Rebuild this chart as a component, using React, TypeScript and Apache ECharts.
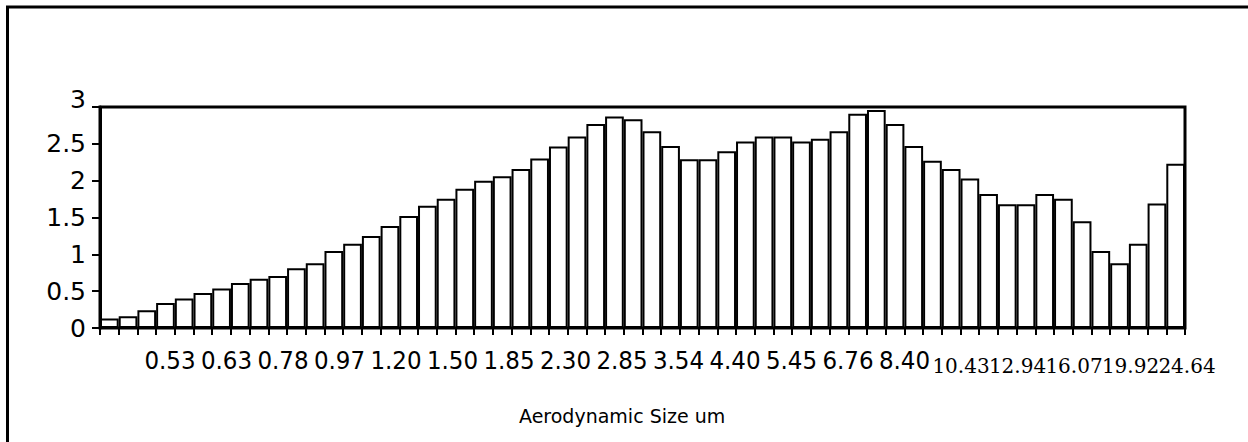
import React, { useEffect, useRef } from "react";
import * as echarts from "echarts";

const channels: string[] = [
  "1", "2", "3", "4", "5", "6", "7", "8", "9", "10",
  "11", "12", "13", "14", "15", "16", "17", "18", "19", "20",
  "21", "22", "23", "24", "25", "26", "27", "28", "29", "30",
  "31", "32", "33", "34", "35", "36", "37", "38", "39", "40",
  "41", "42", "43", "44", "45", "46", "47", "48", "49", "50",
  "51", "52", "53", "54", "55", "56", "57", "58",
];

const values: number[] = [
  0.13, 0.16, 0.24, 0.34, 0.40, 0.475, 0.535, 0.61, 0.67, 0.705,
  0.81, 0.88, 1.045, 1.145, 1.25, 1.385, 1.52, 1.66, 1.755, 1.89,
  2.0, 2.06, 2.16, 2.30, 2.465, 2.60, 2.77, 2.87, 2.835, 2.67,
  2.47, 2.29, 2.29, 2.40, 2.53, 2.60, 2.60, 2.53, 2.57, 2.67,
  2.91, 2.96, 2.77, 2.47, 2.27, 2.16, 2.03, 1.82, 1.68, 1.68,
  1.82, 1.755, 1.45, 1.045, 0.88, 1.145, 1.69, 2.23,
];

const sizeLabels: string[] = [
  "0.53", "0.63", "0.78", "0.97", "1.20", "1.50", "1.85", "2.30", "2.85", "3.54",
  "4.40", "5.45", "6.76", "8.40", "10.43", "12.94", "16.07", "19.92", "24.64",
];

const xTitle = "Aerodynamic Size um";

const SANS = "'DejaVu Sans', sans-serif";
const SERIF = "'DejaVu Serif', serif";

export default function App() {
  const ref = useRef<HTMLDivElement>(null);
  useEffect(() => {
    if (!ref.current) return;
    const chart = echarts.init(ref.current, undefined, { renderer: "svg" });
    const option: any = {
      animation: false,
      backgroundColor: "#fff",
      title: {
        text: xTitle,
        left: 514,
        top: 401,
        textStyle: { fontSize: 19, fontWeight: "normal", fontFamily: SANS, color: "#000" },
      },
      grid: [
        { left: 100, right: 63, top: 107, bottom: 114, show: true, borderColor: "#000", borderWidth: 3, backgroundColor: "transparent" },
        { left: 141.75, right: 32.75, top: 107, bottom: 114 },
      ],
      xAxis: [
        {
          type: "category",
          gridIndex: 0,
          data: channels,
          boundaryGap: true,
          axisLine: { show: true, lineStyle: { color: "#000", width: 2 } },
          axisTick: { show: true, interval: 0, length: 7, lineStyle: { color: "#000", width: 2 } },
          axisLabel: { show: false },
          splitLine: { show: false },
        },
        {
          type: "category",
          gridIndex: 1,
          data: sizeLabels,
          boundaryGap: true,
          axisLine: { show: false },
          axisTick: { show: false },
          splitLine: { show: false },
          axisLabel: { show: false },
        },
      ],
      yAxis: [
        {
          type: "value",
          gridIndex: 0,
          min: 0,
          max: 3,
          interval: 0.5,
          axisLine: { show: true, lineStyle: { color: "#000", width: 3 } },
          axisTick: { show: true, length: 8, lineStyle: { color: "#000", width: 2 } },
          splitLine: { show: false },
          axisLabel: {
            margin: 14,
            formatter: (v: number) => (v === 3 ? `{t|${v}}` : `{a|${v}}`),
            rich: {
              a: { fontFamily: SANS, fontSize: 25, color: "#000" },
              t: { fontFamily: SANS, fontSize: 25, color: "#000", padding: [0, 0, 16, 0] },
            },
          },
        },
        { type: "value", gridIndex: 1, min: 0, max: 3, show: false },
      ],
      series: [
        {
          type: "bar",
          xAxisIndex: 0,
          yAxisIndex: 0,
          data: values,
          barWidth: "100%",
          barCategoryGap: "0%",
          itemStyle: { color: "#fff", borderColor: "#000", borderWidth: 2 },
        },
        {
          type: "custom",
          xAxisIndex: 1,
          yAxisIndex: 1,
          clip: false,
          silent: true,
          data: sizeLabels.map((s, i) => [i, 0]),
          renderItem: (params: any, api: any) => {
            const i = params.dataIndex;
            const p = api.coord([api.value(0), 0]);
            const small = i >= 14;
            return {
              type: "text",
              x: p[0],
              y: p[1] + (small ? 28 : 20),
              scaleX: small ? 1 : 0.92,
              style: {
                text: sizeLabels[i],
                fontFamily: small ? SERIF : SANS,
                fontSize: small ? 20 : 25,
                fill: "#000",
                align: "center",
                verticalAlign: "top",
              },
            };
          },
        },
      ],
      graphic: [
        { type: "line", shape: { x1: 6, y1: 7, x2: 1248, y2: 7 }, style: { stroke: "#000", lineWidth: 3 } },
        { type: "line", shape: { x1: 7.5, y1: 6, x2: 7.5, y2: 442 }, style: { stroke: "#000", lineWidth: 3 } },
      ],
    };
    chart.setOption(option);
    return () => chart.dispose();
  }, []);
  return (
    <div
      ref={ref}
      style={{ position: "fixed", left: 0, top: 0, width: 1248, height: 442, background: "#fff" }}
    />
  );
}
